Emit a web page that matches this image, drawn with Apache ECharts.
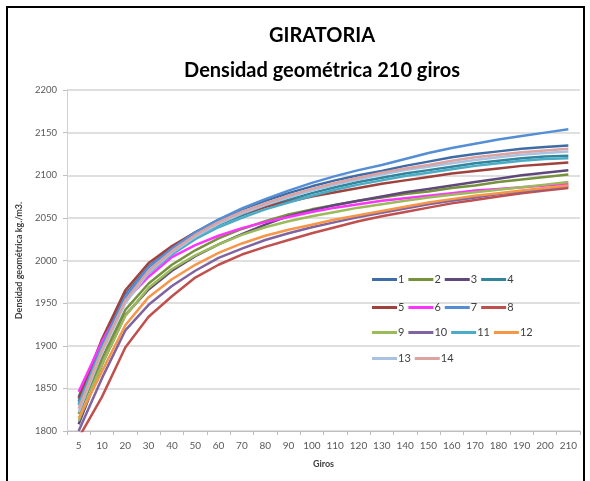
<!DOCTYPE html>
<html>
<head>
<meta charset="utf-8">
<script src="https://cdn.jsdelivr.net/npm/echarts@6/dist/echarts.min.js"></script>
<style>html,body{margin:0;padding:0;background:#fff}#c{width:590px;height:481px}</style>
</head>
<body>
<div id="c"></div>
<script>
const categories = ['5','10','20','30','40','50','60','70','80','90','100','110','120','130','140','150','160','170','180','190','200','210'];
const seriesNames = ['1','2','3','4','5','6','7','8','9','10','11','12','13','14'];
const s1  = [1840,1905,1960,1993,2015,2033,2048,2060,2070,2079,2087,2094,2100,2105,2111,2116,2121,2125,2128,2131,2133,2135];
const s2  = [1820,1885,1942,1973,1995,2012,2026,2037,2046,2054,2060,2065,2070,2074,2078,2081,2085,2088,2092,2095,2098,2101];
const s3  = [1808,1878,1936,1966,1988,2005,2019,2031,2042,2052,2059,2065,2070,2075,2080,2084,2088,2092,2096,2100,2103,2106];
const s4  = [1835,1900,1955,1988,2010,2028,2042,2053,2063,2071,2079,2086,2092,2097,2102,2106,2110,2114,2117,2120,2122,2123];
const s5  = [1838,1908,1965,1997,2017,2033,2045,2055,2063,2069,2075,2080,2085,2090,2094,2098,2102,2105,2108,2111,2113,2115];
const s6  = [1846,1905,1953,1981,2004,2018,2029,2038,2045,2051,2057,2062,2066,2070,2073,2076,2079,2082,2084,2086,2088,2090];
const s7  = [1832,1900,1958,1992,2014,2033,2048,2061,2072,2082,2091,2099,2106,2112,2119,2126,2132,2137,2142,2146,2150,2154];
const s8  = [1792,1840,1898,1934,1958,1980,1995,2007,2016,2024,2032,2039,2046,2052,2057,2062,2067,2071,2075,2079,2082,2085];
const s9  = [1812,1878,1935,1968,1990,2006,2019,2030,2039,2046,2052,2057,2062,2066,2070,2074,2077,2080,2083,2086,2089,2092];
const s10 = [1800,1862,1918,1948,1970,1988,2003,2014,2024,2032,2039,2045,2051,2056,2061,2066,2070,2074,2078,2081,2084,2087];
const s11 = [1830,1897,1952,1985,2007,2025,2039,2050,2060,2068,2076,2083,2089,2094,2099,2103,2107,2111,2114,2117,2119,2120];
const s12 = [1815,1870,1924,1957,1978,1995,2009,2020,2029,2036,2042,2048,2053,2058,2063,2068,2072,2076,2079,2082,2085,2088];
const s13 = [1822,1892,1950,1986,2009,2028,2043,2055,2065,2074,2082,2089,2095,2101,2106,2110,2114,2118,2121,2124,2126,2128];
const s14 = [1826,1895,1953,1988,2011,2030,2045,2057,2067,2076,2084,2091,2097,2103,2108,2112,2117,2121,2124,2127,2129,2131];
const seriesData = [s1,s2,s3,s4,s5,s6,s7,s8,s9,s10,s11,s12,s13,s14];
const colors = ['#3E6CA6','#76923C','#5F497A','#31859C','#A0413C','#FF33FF','#558ED5','#C0504D','#9BBB59','#8064A2','#4BACC6','#F79646','#A9C2E2','#DDA3A1'];

const font = 'Lato, "Open Sans", sans-serif';
const rowTops = [269, 297, 322, 348];
const legends = [0,1,2,3].map(r => ({
  left: 367, top: rowTops[r], orient: 'horizontal',
  data: seriesNames.slice(r*4, r*4+4),
  icon: 'rect', itemWidth: 25, itemHeight: 3, itemGap: 4, selectedMode: false,
  textStyle: { fontFamily: font, fontSize: 11, color: '#404040', width: 21, padding: [0,0,0,-4] }
}));

const chart = echarts.init(document.getElementById('c'), null, { renderer: 'canvas' });
chart.setOption({
  animation: false,
  color: colors,
  graphic: [{ type: 'rect', shape: { x: 7, y: 7, width: 577, height: 500 }, style: { fill: 'none', stroke: '#000', lineWidth: 2 }, silent: true }],
  title: [
    { text: 'GIRATORIA', left: 317, top: 21, textAlign: 'center', textStyle: { fontFamily: font, fontSize: 20, fontWeight: 'bold', color: '#000' } },
    { text: 'Densidad geométrica 210 giros', left: 317, top: 56, textAlign: 'center', textStyle: { fontFamily: font, fontSize: 20, fontWeight: 'bold', color: '#000' } }
  ],
  legend: legends,
  grid: { left: 67, right: 10, top: 90, bottom: 50, containLabel: false },
  xAxis: {
    type: 'category', data: categories, boundaryGap: true,
    name: 'Giros', nameLocation: 'middle', nameGap: 29,
    nameTextStyle: { fontFamily: font, fontSize: 9, fontWeight: 'bold', color: '#404040' },
    axisLine: { lineStyle: { color: '#BFBFBF', width: 1 } },
    axisTick: { show: true, lineStyle: { color: '#BFBFBF' }, length: 4 },
    axisLabel: { fontFamily: font, fontSize: 10, color: '#595959', margin: 10, interval: 0 },
    splitLine: { show: false }
  },
  yAxis: {
    type: 'value', min: 1800, max: 2200, interval: 50,
    name: 'Densidad geométrica kg./m3.', nameLocation: 'middle', nameGap: 43, nameRotate: 90,
    nameTextStyle: { fontFamily: font, fontSize: 9, fontWeight: 'bold', color: '#404040' },
    axisLine: { show: true, lineStyle: { color: '#D0D0D0', width: 1 } },
    axisTick: { show: true, length: 4, lineStyle: { color: '#BFBFBF' } },
    axisLabel: { fontFamily: font, fontSize: 9.5, color: '#595959', margin: 10, formatter: v => String(v) },
    splitLine: { show: true, lineStyle: { color: '#D4D4D4', width: 1.5 } }
  },
  series: seriesData.map((d, i) => ({
    name: seriesNames[i], type: 'line', data: d, symbol: 'none', smooth: false,
    lineStyle: { width: 2.5, color: colors[i] }, itemStyle: { color: colors[i] }, clip: true
  }))
});
</script>
</body>
</html>
